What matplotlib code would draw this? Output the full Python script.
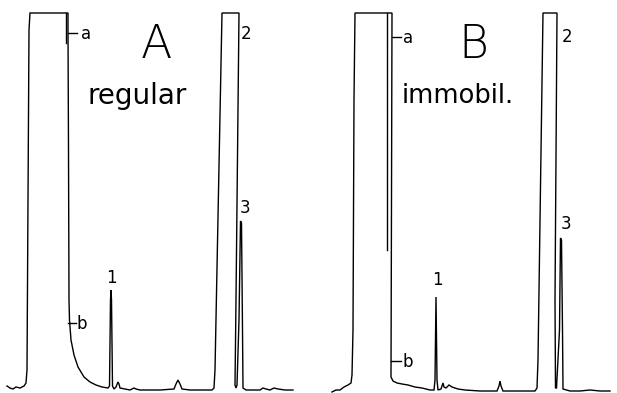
import matplotlib
matplotlib.use("Agg")
import matplotlib.pyplot as plt

# Chromatogram traces: (retention position, detector signal)
# positions in figure-pixel units, signal = 393 - pixel row
trace_a_x = [7, 10, 13, 16, 20, 24, 26, 27, 28, 29, 30, 68, 68, 68.5, 69, 69.5, 71, 74, 78, 84, 90, 96,
             102, 108, 109.5, 110.5, 111, 111.5, 112.5, 114, 116, 118, 119, 120, 125, 130, 134, 136, 140,
             160, 174, 176, 178, 180, 182, 190, 212, 214, 215, 222, 239, 236, 235, 236, 237, 239, 240.5,
             241.5, 242.5, 243, 246, 260, 263, 266, 270, 274, 278, 285, 293]
trace_a_y = [386, 388, 389, 387, 388, 386, 383, 370, 200, 30, 13, 13, 30, 150, 300, 320, 340, 355, 367, 377,
             382, 385, 387, 388, 386, 300, 290, 300, 386, 389, 387, 382, 384, 388, 389, 390, 388, 389, 390,
             390, 389, 384, 380, 384, 389, 390, 390, 388, 370, 13, 13, 300, 385, 388, 385, 320, 221, 223,
             330, 388, 390, 390, 388, 389, 390, 388, 389, 390, 390]

trace_b_x = [332, 336, 340, 344, 348, 351, 352, 353, 354, 355, 392, 391.5, 391, 393, 397, 402, 408, 415,
             422, 430, 434, 435, 436, 437, 438, 441, 443, 444, 446, 449, 452, 458, 465, 480, 497, 499, 500,
             501, 503, 520, 535, 537, 538, 543, 557, 555, 555.5, 556.5, 559.5, 560.5, 561.5, 562.5, 563, 570,
             580, 590, 600, 610]
trace_b_y = [392, 390, 390, 387, 385, 383, 375, 330, 100, 13, 13, 200, 377, 381, 383, 384, 385, 387, 388,
             390, 390, 380, 297, 380, 390, 389, 383, 387, 388, 385, 387, 389, 390, 391, 391, 386, 381, 386,
             391, 391, 391, 388, 360, 13, 13, 300, 388, 388, 330, 238, 240, 330, 389, 391, 391, 390, 391, 391]

# short inner pen lines at the top of the solvent peaks
inner_a_x = [66, 66]
inner_a_y = [13, 43]
inner_b_x = [387, 387]
inner_b_y = [13, 250]

panel_letters = ["A", "B"]
panel_names = ["regular", "immobil."]
peak_labels = ["1", "2", "3"]
marker_labels = ["a", "b"]

H = 393
fig = plt.figure(figsize=(6.17, 3.93), dpi=100)
ax = fig.add_axes([0, 0, 1, 1])
ax.set_xlim(0, 617)
ax.set_ylim(0, H)
ax.axis("off")

def sig(v):
    return [H - t for t in v]

lw = 1.0
for xs, ys in [(trace_a_x, trace_a_y), (trace_b_x, trace_b_y),
               (inner_a_x, inner_a_y), (inner_b_x, inner_b_y)]:
    ax.plot(xs, sig(ys), color="black", lw=lw, solid_joinstyle="miter")

# marker ticks a / b
ticks = [((68, 77), 33, 81, marker_labels[0]), ((68, 76), 323, 77, marker_labels[1]),
         ((392, 401), 37, 403, marker_labels[0]), ((391, 401), 361, 402, marker_labels[1])]
for (x0, x1), yy, tx, lab in ticks:
    ax.plot([x0, x1], [H - yy, H - yy], color="black", lw=lw)
    ax.text(tx, H - yy - 1, lab, fontsize=12, ha="left", va="center", family="DejaVu Sans")

# peak numbers
nums = [(111, 278, peak_labels[0]), (246, 34, peak_labels[1]), (245, 208, peak_labels[2]),
        (437, 280, peak_labels[0]), (567, 37, peak_labels[1]), (566, 224, peak_labels[2])]
for x, y, lab in nums:
    ax.text(x, H - y, lab, fontsize=12, ha="center", va="center", family="DejaVu Sans")

# panel titles
for x, y, lab in [(156, 45, panel_letters[0]), (473, 45, panel_letters[1])]:
    ax.text(x, H - y, lab, fontsize=33, ha="center", va="center", family="DejaVu Sans",
            fontweight="light")
for x, y, lab, fs in [(137, 96, panel_names[0], 20), (458, 96, panel_names[1], 18.5)]:
    ax.text(x, H - y, lab, fontsize=fs, ha="center", va="center", family="DejaVu Sans")

fig.savefig("out.png", dpi=100)
